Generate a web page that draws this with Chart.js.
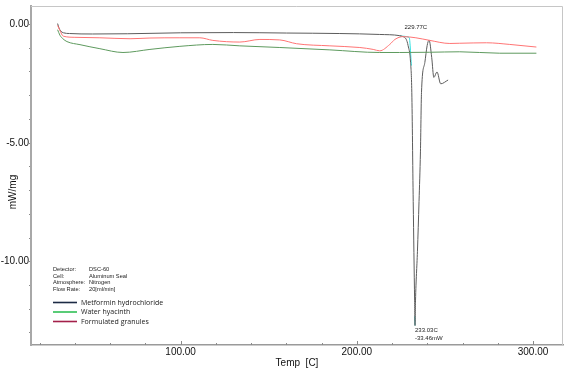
<!DOCTYPE html>
<html lang="en">
<head>
  <meta charset="UTF-8" />
  <title>DSC thermogram</title>
  <link rel="icon" href="data:,">
  <script src="https://cdn.jsdelivr.net/npm/chart.js"></script>
  <style>
    body { margin: 0; padding: 0; background: #fff; }
    #wrap { width: 567px; height: 372px; }
  </style>
</head>
<body>
  <div id="wrap"><canvas id="dsc" width="567" height="372"></canvas></div>

  <script>
    // Metformin hydrochloride (temp C, mW/mg)
    const metTemp = [30.2, 31.0, 32.0, 33.5, 37, 50, 70, 100, 130, 160, 190, 213, 224.3, 226.5, 228, 229.1, 230.5, 231.2, 232.0, 232.8, 233.03, 233.3, 234.4, 235.3, 236.1, 236.7, 238.6, 239.9, 241.0, 242.5, 243.7, 245.5, 247.6, 251.8];
    const metVal  = [0.04, -0.15, -0.28, -0.35, -0.38, -0.40, -0.39, -0.35, -0.34, -0.36, -0.38, -0.42, -0.47, -0.52, -0.62, -0.89, -1.60, -2.86, -7.46, -11.65, -12.69, -11.65, -9.56, -7.46, -5.37, -2.86, -1.60, -0.89, -0.66, -1.39, -2.23, -2.00, -2.50, -2.34];

    // Water hyacinth
    const hyaTemp = [30.2, 31.5, 33.2, 35.5, 42.9, 54.2, 67.3, 82.6, 99.6, 118.3, 133.6, 156.3, 184.7, 213.0, 224.3, 241.4, 258.4, 281.1, 301.9];
    const hyaVal  = [-0.22, -0.45, -0.60, -0.72, -0.85, -1.02, -1.18, -1.05, -0.92, -0.84, -0.90, -0.97, -1.07, -1.18, -1.18, -1.17, -1.15, -1.21, -1.21];

    // Formulated granules
    const granTemp = [30.2, 31.5, 33.4, 40, 54.2, 71.3, 82.6, 99.6, 110.9, 118.3, 133.6, 145.0, 156.3, 165.8, 184.7, 201.7, 209.3, 213.0, 218.7, 221.6, 226.3, 233.5, 241.4, 252.8, 258.4, 273.6, 286.8, 301.9];
    const granVal  = [-0.04, -0.25, -0.49, -0.54, -0.56, -0.60, -0.57, -0.56, -0.56, -0.67, -0.74, -0.63, -0.65, -0.81, -0.90, -0.97, -1.05, -1.11, -0.84, -0.63, -0.51, -0.56, -0.67, -0.80, -0.79, -0.77, -0.84, -0.95];

    // onset tangent + peak marker (cyan)
    const onsetTemp = [224.3, 229.7, 231.0];
    const onsetVal  = [-0.49, -0.54, -1.73];
    const peakTemp  = [232.85, 233.03];
    const peakVal   = [-12.3, -12.69];

    const xTicks = [20, 40, 60, 80, 100, 120, 140, 160, 180, 200, 220, 240, 260, 280, 300];
    const yTicks = [0, -1, -2, -3, -4, -5, -6, -7, -8, -9, -10, -11, -12, -13];

    const legendNames = ['Metformin hydrochloride', 'Water hyacinth', 'Formulated granules'];
    const legendColors = ['#1c2b45', '#2fbf55', '#a3204a'];
    const infoKeys = ['Detector:', 'Cell:', 'Atmosphere:', 'Flow Rate:'];
    const infoVals = ['DSC-60', 'Aluminum Seal', 'Nitrogen', '20[ml/min]'];

    const pts = (xs, ys) => xs.map((x, i) => ({ x: x, y: ys[i] }));

    const decor = {
      id: 'decor',
      afterDraw(chart) {
        const ctx = chart.ctx;
        const xs = chart.scales.x, ys = chart.scales.y;
        const a = chart.chartArea;
        ctx.save();

        // top / right frame
        ctx.strokeStyle = '#c6c6c6';
        ctx.lineWidth = 1;
        ctx.beginPath();
        ctx.moveTo(a.left, a.top + 0.5);
        ctx.lineTo(a.right - 0.5, a.top + 0.5);
        ctx.lineTo(a.right - 0.5, a.bottom);
        ctx.stroke();

        // x ticks pointing inward
        ctx.strokeStyle = '#8a8a8a';
        xTicks.forEach(v => {
          const px = Math.round(xs.getPixelForValue(v)) + 0.5;
          const len = v % 100 === 0 ? 4 : 2;
          ctx.beginPath();
          ctx.moveTo(px, a.bottom);
          ctx.lineTo(px, a.bottom - len);
          ctx.stroke();
        });

        // axis titles
        ctx.fillStyle = '#111';
        ctx.font = '10px "Liberation Sans"';
        ctx.textAlign = 'center';
        ctx.textBaseline = 'middle';
        ctx.fillText('Temp  [C]', (a.left + a.right) / 2, 363);
        ctx.save();
        ctx.translate(13, 192);
        ctx.rotate(-Math.PI / 2);
        ctx.fillText('mW/mg', 0, 0);
        ctx.restore();

        // peak annotations
        ctx.font = '6px "Liberation Sans"';
        ctx.fillStyle = '#222';
        ctx.fillText('229.77C', xs.getPixelForValue(233.5), ys.getPixelForValue(-0.14));
        ctx.textAlign = 'left';
        ctx.fillText('233.03C', xs.getPixelForValue(233.03), ys.getPixelForValue(-12.9));
        ctx.fillText('-33.46mW', xs.getPixelForValue(233.03), ys.getPixelForValue(-13.23));

        // instrument info
        ctx.font = '5.7px "Liberation Sans"';
        infoKeys.forEach((k, i) => {
          ctx.fillText(k, 53, 269.5 + i * 6.5);
          ctx.fillText(infoVals[i], 89, 269.5 + i * 6.5);
        });

        // legend
        ctx.font = '7px "Open Sans"';
        ctx.fillStyle = '#1a1a1a';
        legendNames.forEach((n, i) => {
          const y = 302.5 + i * 9.5;
          ctx.strokeStyle = legendColors[i];
          ctx.lineWidth = 1.6;
          ctx.beginPath();
          ctx.moveTo(53, y);
          ctx.lineTo(77, y);
          ctx.stroke();
          ctx.fillText(n, 81, y);
        });
        ctx.restore();
      }
    };

    const lineStyle = (color) => ({
      borderColor: color,
      borderWidth: 1,
      pointRadius: 0,
      fill: false,
      cubicInterpolationMode: 'monotone'
    });

    new Chart(document.getElementById('dsc').getContext('2d'), {
      type: 'line',
      data: {
        datasets: [
          { label: 'Formulated granules', data: pts(granTemp, granVal), ...lineStyle('#ff7474') },
          { label: 'Water hyacinth', data: pts(hyaTemp, hyaVal), ...lineStyle('#5e9a5e') },
          { label: 'Metformin hydrochloride', data: pts(metTemp, metVal), ...lineStyle('#5c5c5c') },
          { label: 'onset', data: pts(onsetTemp, onsetVal), ...lineStyle('#2fe0e0') },
          { label: 'peak', data: pts(peakTemp, peakVal), ...lineStyle('#2fe0e0') }
        ]
      },
      options: {
        responsive: false,
        animation: false,
        layout: { padding: { top: 3, right: 4, left: 0, bottom: 0 } },
        plugins: { legend: { display: false }, tooltip: { enabled: false } },
        scales: {
          x: {
            type: 'linear',
            min: 15.1,
            max: 317.0,
            afterFit: s => { s.height = 27; },
            afterBuildTicks: s => { s.ticks = xTicks.map(v => ({ value: v })); },
            grid: { display: false, drawTicks: false, tickLength: 0 },
            border: { display: true, color: '#9a9a9a', width: 1.5 },
            ticks: {
              autoSkip: false,
              maxRotation: 0,
              padding: 1,
              color: '#111',
              font: { family: 'Liberation Sans', size: 10 },
              callback: v => v % 100 === 0 ? v.toFixed(2) : ''
            }
          },
          y: {
            type: 'linear',
            min: -13.51,
            max: 0.78,
            afterFit: s => { s.width = 31; },
            afterBuildTicks: s => { s.ticks = yTicks.map(v => ({ value: v })); },
            grid: { drawOnChartArea: false, tickLength: 2, color: '#8a8a8a' },
            border: { display: true, color: '#a8a8a8', width: 2 },
            ticks: {
              autoSkip: false,
              padding: 0,
              color: '#111',
              font: { family: 'Liberation Sans', size: 10 },
              callback: v => v % 5 === 0 ? v.toFixed(2) : ''
            }
          }
        }
      },
      plugins: [decor]
    });
  </script>
</body>
</html>
